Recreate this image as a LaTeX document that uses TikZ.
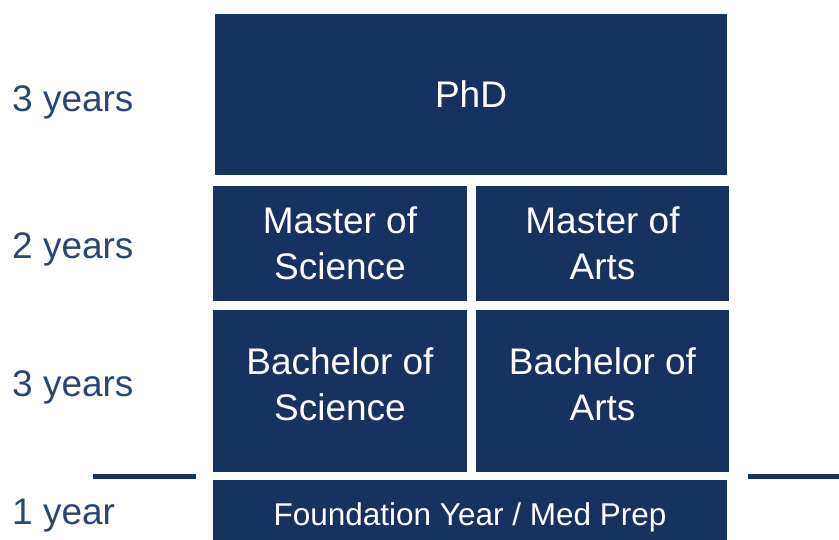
\documentclass[tikz,border=0pt]{standalone}
\usepackage{fontspec}
\setmainfont{Liberation Sans}
\definecolor{navy}{HTML}{163261}
\definecolor{yearblue}{HTML}{2A4672}
\tikzset{
  degree/.style={fill=navy,text=white,align=center,inner sep=0pt,font=\fontsize{37}{46}\selectfont},
  raised/.style={text=white,align=center,inner sep=0pt,font=\fontsize{37}{46}\selectfont,yshift=7pt},
  yearlabel/.style={anchor=west,text=yearblue,inner sep=0pt,font=\fontsize{37}{44}\selectfont},
  divider/.style={navy,line width=5pt}
}
\begin{document}
\begin{tikzpicture}[x=1pt,y=-1pt]
\useasboundingbox (0,0) rectangle (839,540);
\clip (0,0) rectangle (839,540);
% degree boxes
\node[degree,minimum width=512pt,minimum height=161pt] (phd) at (471,94.5) {PhD};
\node[degree,minimum width=254pt,minimum height=115pt] (msc) at (340,243.5) {Master of\\Science};
\node[degree,minimum width=253pt,minimum height=115pt] (ma) at (602.5,243.5) {Master of\\Arts};
\node[degree,minimum width=254pt,minimum height=162pt,label={[raised]center:{Bachelor of\\Science}}] (bsc) at (340,391) {};
\node[degree,minimum width=253pt,minimum height=162pt,label={[raised]center:{Bachelor of\\Arts}}] (ba) at (602.5,391) {};
\node[degree,minimum width=514pt,minimum height=74pt,font=\fontsize{31.5}{37}\selectfont] (found) at (470,517) {Foundation Year / Med Prep};
% years
\node[yearlabel] (y1) at (12,102) {3 years};
\node[yearlabel] (y2) at (12,249) {2 years};
\node[yearlabel] (y3) at (12,387) {3 years};
\node[yearlabel] (y4) at (12,516) {1 year};
% dividers
\coordinate (la) at (93,476); \coordinate (lb) at (196,476);
\coordinate (ra) at (748,476); \coordinate (rb) at (839,476);
\draw[divider] (la)--(lb);
\draw[divider] (ra)--(rb);
\end{tikzpicture}
\end{document}
